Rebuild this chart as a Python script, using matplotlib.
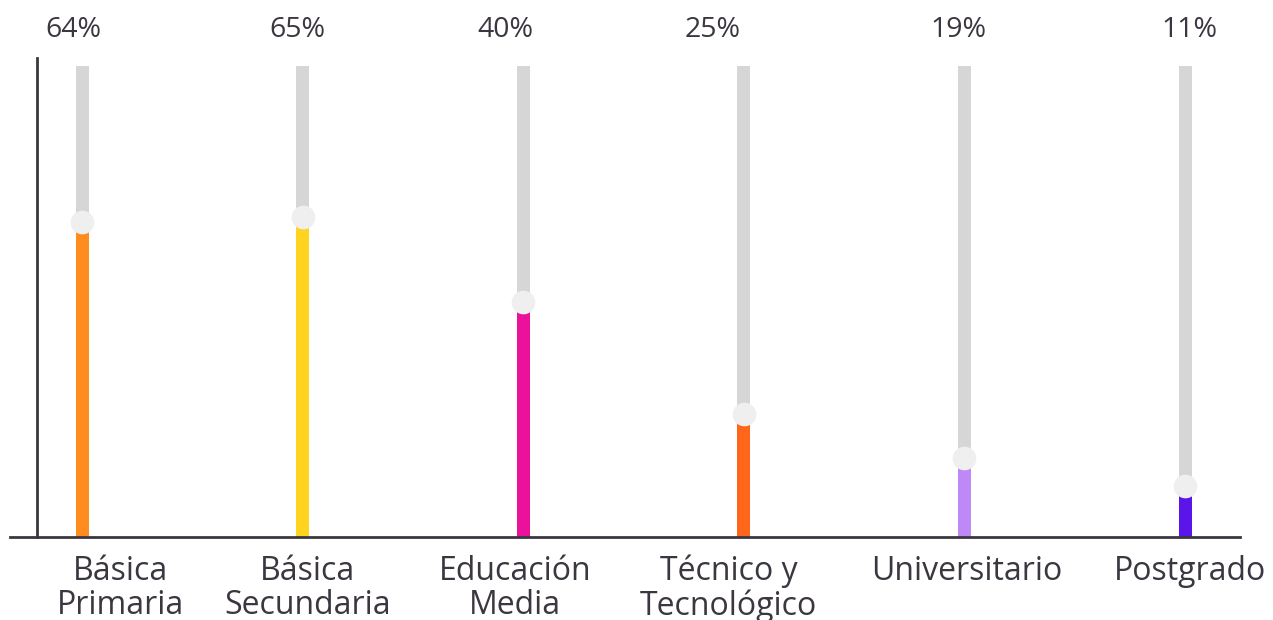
"""Nivel educativo - lollipop chart"""
import matplotlib.pyplot as plt

plt.rcParams['font.family'] = ['Open Sans', 'DejaVu Sans']

# datos
categorias = ['Básica\nPrimaria', 'Básica\nSecundaria', 'Educación\nMedia',
              'Técnico y\nTecnológico', 'Universitario', 'Postgrado']
etiquetas = ['64%', '65%', '40%', '25%', '19%', '11%']
alturas = [64, 65, 47.8, 25, 16, 10.4]   # altura dibujada de cada barra
fondo = 95.7                              # altura de la barra gris

colores = ['#FF8C1E', '#FFD31E', '#EC119A', '#FF6619', '#BE88F6', '#5A16E8']
gris = '#D6D6D6'
texto = '#3B3640'

W, H = 1273, 620
fig = plt.figure(figsize=(W / 100, H / 100), dpi=100)
ax = fig.add_axes([10 / W, (H - 537) / H, 1230 / W, (537 - 58) / H])

xs = list(range(len(categorias)))
unit = (1185 - 82) / 5
ax.set_xlim(-72 / unit, 5 + (1230 - 1175) / unit)
ax.set_ylim(0, 479 / 4.92)

ax.bar(xs, [fondo] * len(xs), width=13 / unit, color=gris, zorder=1)
ax.bar(xs, alturas, width=13 / unit, color=colores, zorder=2)
ax.plot(xs, alturas, 'o', color='#EFEFEF', markersize=16, zorder=3,
        clip_on=False)

# ajustes finos de las etiquetas (px)
offs_pct = [-9, -5, -18, -31, -6, 4]
offs_cat = [38, 5, -8, -15, 2, 5]

trans = ax.get_xaxis_transform()
for x, lab, o in zip(xs, etiquetas, offs_pct):
    ax.text(x + o / unit, 1 + (58 - 30) / 479, lab, transform=trans,
            ha='center', va='center', fontsize=20.5, color=texto)

for x, cat, o in zip(xs, categorias, offs_cat):
    ax.text(x + o / unit, -(555 - 537) / 479, cat, transform=trans,
            ha='center', va='top', fontsize=23, color=texto, linespacing=1.02)

for s in ['top', 'right']:
    ax.spines[s].set_visible(False)
ax.spines['left'].set_position(('axes', 27 / 1230))
ax.spines['left'].set_color(texto)
ax.spines['left'].set_linewidth(2)
ax.spines['bottom'].set_color(texto)
ax.spines['bottom'].set_linewidth(2)
ax.spines['bottom'].set_zorder(4)
ax.set_xticks([])
ax.set_yticks([])

plt.savefig('out.png', dpi=100)
plt.close()
